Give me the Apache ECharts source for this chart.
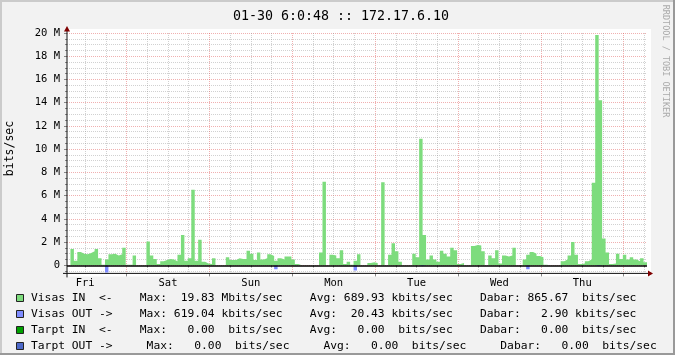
<!DOCTYPE html>
<html><head><meta charset="utf-8">
<script src="https://cdn.jsdelivr.net/npm/echarts@6/dist/echarts.min.js"></script>
<style>html,body{margin:0;padding:0;background:#f0f0f0}#c{width:675px;height:355px}</style>
</head><body><div id="c"></div><script>
// ---- data ----
const title = '01-30 6:0:48 :: 172.17.6.10';
const unitLabel = 'bits/sec';
const watermark = 'RRDTOOL / TOBI OETIKER';
const dayLabels = ['Fri','Sat','Sun','Mon','Tue','Wed','Thu'];
const dayNoonHours = [12,36,60,84,108,132,156];          // hours since Fri 00:00
const midnightHours = [24,48,72,96,120,144,168];
const minorHours = [12,18,30,36,42,54,60,66,78,84,90,102,108,114,126,132,138,150,156,162,174];
const startHour = 6.75, endHour = 174.75;
const yMajorTicks = [0,2,4,6,8,10,12,14,16,18,20];       // Mbits/sec
const yMinorTicks = [-0.5,0.5,1,1.5,2.5,3,3.5,4.5,5,5.5,6.5,7,7.5,8.5,9,9.5,10.5,11,11.5,12.5,13,13.5,14.5,15,15.5,16.5,17,17.5,18.5,19,19.5];
const yMin = -0.7, yMax = 20;
// hourly averages, Mbits/sec, starting Fri ~06:45
const visasIn = [
  0,1.4,0.4,1.15,1.0,0.95,1.05,1.2,1.4,0.6,0.05,0.5,
  0.95,1.0,0.85,0.95,1.5,0.05,0.05,0.85,0,0,0,2.05,
  0.85,0.55,0.1,0.35,0.45,0.55,0.5,0.35,0.9,2.6,0.4,0.6,
  6.5,0.4,2.2,0.3,0.15,0.1,0.6,0,0,0,0.7,0.45,
  0.45,0.6,0.55,0.55,1.25,1.0,0.45,1.1,0.5,0.6,0.95,0.8,
  0.4,0.6,0.5,0.75,0.75,0.5,0.1,0,0,0,0,0,
  0,1.1,7.2,0,0.9,0.85,0.6,1.3,0.1,0.3,0.05,0.4,
  0.95,0,0,0.2,0.25,0.2,0,7.15,0,0.9,1.9,1.2,
  0.3,0,0,0,1.0,0.7,10.9,2.6,0.5,0.85,0.5,0.3,
  1.25,1.0,0.75,1.5,1.3,0.1,0.2,0,0,1.65,1.75,1.7,
  1.2,0,0.85,0.6,1.3,0.15,0.85,0.75,0.85,1.5,0,0,
  0.5,0.9,1.15,1.0,0.8,0.7,0.05,0,0,0,0,0.35,
  0.5,0.85,2.0,0.9,0.1,0.15,0.35,0.5,7.1,19.83,14.2,2.3,
  1.1,0.1,0.15,1.0,0.55,0.9,0.5,0.7,0.5,0.35,0.6,0.25
];
const visasOut = [
  0,0,0,0,0,0,0,0,0,0,0,0.62,
  0,0,0,0,0,0,0,0,0,0,0,0,
  0,0,0,0,0,0,0,0,0,0,0,0,
  0,0,0,0,0,0,0,0,0,0,0,0,
  0,0,0,0,0,0,0,0,0,0,0,0,
  0.35,0,0,0,0,0,0,0,0,0,0,0,
  0,0,0,0,0,0,0,0,0,0,0,0.45,
  0,0,0,0,0,0,0,0,0,0,0,0,
  0,0,0,0,0,0,0.08,0,0,0,0,0,
  0,0,0,0,0,0,0,0,0,0,0,0,
  0,0,0,0,0,0,0,0,0,0,0,0,
  0,0.35,0,0,0,0,0,0,0,0,0,0,
  0,0,0,0,0,0,0,0,0,0.08,0,0,
  0,0,0,0,0,0,0,0,0,0,0,0
];
const legendRows = [
  'Visas IN  <-    Max:  19.83 Mbits/sec    Avg: 689.93 kbits/sec    Dabar: 865.67  bits/sec',
  'Visas OUT ->    Max: 619.04 kbits/sec    Avg:  20.43 kbits/sec    Dabar:   2.90 kbits/sec',
  'Tarpt IN  <-    Max:   0.00  bits/sec    Avg:   0.00  bits/sec    Dabar:   0.00  bits/sec',
  'Tarpt OUT ->     Max:   0.00  bits/sec     Avg:   0.00  bits/sec     Dabar:   0.00  bits/sec'
];
const legendColors = ['#7ddc7d','#7f8cff','#00a000','#4c68c8'];

// ---- build ----
const MONO = '"DejaVu Sans Mono", monospace';
function stepPts(arr, sign){
  const pts = arr.map((v,i)=>[startHour+i, sign*v]);
  pts.push([endHour, sign*arr[arr.length-1]]);
  return pts;
}
const gridCol = 'rgba(140,140,140,0.4)';
const mgridCol = 'rgba(222,80,80,0.45)';

const chart = echarts.init(document.getElementById('c'), null, {renderer:'canvas'});
const gLeft = 67, gTop = 33, gRight = 647, gBottom = 273.4;

const graphics = [
  {type:'rect', z:-5, shape:{x:gLeft, y:gTop-4, width:gRight-gLeft+4, height:gBottom-gTop+7}, style:{fill:'#ffffff'}},
  {type:'rect', z:10, shape:{x:0,y:0,width:675,height:2}, style:{fill:'#cbcbcb'}},
  {type:'rect', z:10, shape:{x:0,y:0,width:2,height:355}, style:{fill:'#cbcbcb'}},
  {type:'rect', z:10, shape:{x:0,y:353,width:675,height:2}, style:{fill:'#999999'}},
  {type:'rect', z:10, shape:{x:673,y:0,width:2,height:355}, style:{fill:'#999999'}},
  {type:'line', z:10, shape:{x1:gLeft-4, y1:gBottom, x2:gRight+4, y2:gBottom}, style:{stroke:'#101010', lineWidth:1}},
  {type:'line', z:10, shape:{x1:gLeft, y1:gBottom+4, x2:gLeft, y2:gTop-4}, style:{stroke:'#101010', lineWidth:1}},
  {type:'polygon', z:10, shape:{points:[[gRight+1,gBottom-3],[gRight+1,gBottom+3],[gRight+6,gBottom]]}, style:{fill:'#7f0000'}},
  {type:'polygon', z:10, shape:{points:[[gLeft-3,gTop-1.5],[gLeft+3,gTop-1.5],[gLeft,gTop-7]]}, style:{fill:'#7f0000'}},
  {type:'text', z:10, x:341, y:17, style:{text:title, font:'13.3px '+MONO, fill:'#000', align:'center', verticalAlign:'middle'}},
  {type:'text', z:10, x:10, y:148.5, rotation:Math.PI/2, style:{text:unitLabel, font:'11.5px '+MONO, fill:'#000', align:'center', verticalAlign:'middle'}},
  {type:'text', z:10, x:665.5, y:61, rotation:-Math.PI/2, style:{text:watermark, font:'8.5px '+MONO, fill:'#aaaaaa', align:'center', verticalAlign:'middle'}}
];
legendRows.forEach((t,k)=>{
  const y = 298 + k*16;
  graphics.push({type:'rect', z:10, shape:{x:16.5, y:y-3.5, width:7, height:7}, style:{fill:legendColors[k], stroke:'#222', lineWidth:1}});
  graphics.push({type:'text', z:10, x:31, y:y, style:{text:t, font:'11.3px '+MONO, fill:'#000', align:'left', verticalAlign:'middle'}});
});

const xBase = {type:'value', min:startHour, max:endHour, position:'bottom', gridIndex:0};
const yBase = {type:'value', min:yMin, max:yMax, position:'left', gridIndex:0};

chart.setOption({
  animation:false,
  backgroundColor:'#f2f2f2',
  grid:{left:gLeft, top:gTop, right:675-gRight, bottom:355-gBottom, show:false},
  xAxis:[
    Object.assign({}, xBase, {axisLine:{show:false}, axisTick:{show:false}, splitLine:{show:false},
      axisLabel:{customValues:dayNoonHours, formatter:v=>dayLabels[Math.round((v-12)/24)], fontFamily:MONO, fontSize:10.5, color:'#000', margin:4}}),
    Object.assign({}, xBase, {axisLine:{show:false}, axisLabel:{show:false},
      axisTick:{show:true, customValues:minorHours, length:2, lineStyle:{color:'#888'}},
      splitLine:{show:true, lineStyle:{color:gridCol, type:[1,1], width:1}}}),
    Object.assign({}, xBase, {axisLine:{show:false}, axisLabel:{show:false},
      axisTick:{show:true, customValues:midnightHours, length:3, lineStyle:{color:'#888'}},
      splitLine:{show:true, lineStyle:{color:mgridCol, type:[1,1], width:1}}})
  ],
  yAxis:[
    Object.assign({}, yBase, {axisLine:{show:false},
      axisLabel:{customValues:yMajorTicks, formatter:v=>v===0?'0':v+' M', fontFamily:MONO, fontSize:10.5, color:'#000', margin:7},
      axisTick:{show:true, customValues:yMajorTicks, length:3, lineStyle:{color:'#888'}},
      splitLine:{show:true, lineStyle:{color:mgridCol, type:[1,1], width:1}}}),
    Object.assign({}, yBase, {axisLine:{show:false}, axisLabel:{show:false},
      axisTick:{show:true, customValues:yMinorTicks, length:2, lineStyle:{color:'#888'}},
      splitLine:{show:true, lineStyle:{color:gridCol, type:[1,1], width:1}}})
  ],
  series:[
    {type:'line', name:'Visas IN', step:'end', data:stepPts(visasIn,1), symbol:'none', showSymbol:false,
     lineStyle:{width:0}, areaStyle:{color:legendColors[0], opacity:1}, silent:true, z:3,
     markLine:{silent:true, symbol:['none','none'], label:{show:false}, lineStyle:{color:'#000', width:1.5, type:'solid'}, data:[{yAxis:0}], z:5}},
    {type:'line', name:'Visas OUT', step:'end', data:stepPts(visasOut,-1), symbol:'none', showSymbol:false,
     lineStyle:{width:0}, areaStyle:{color:legendColors[1], opacity:1}, silent:true, z:3}
  ],
  graphic:{elements:graphics}
});
</script></body></html>
